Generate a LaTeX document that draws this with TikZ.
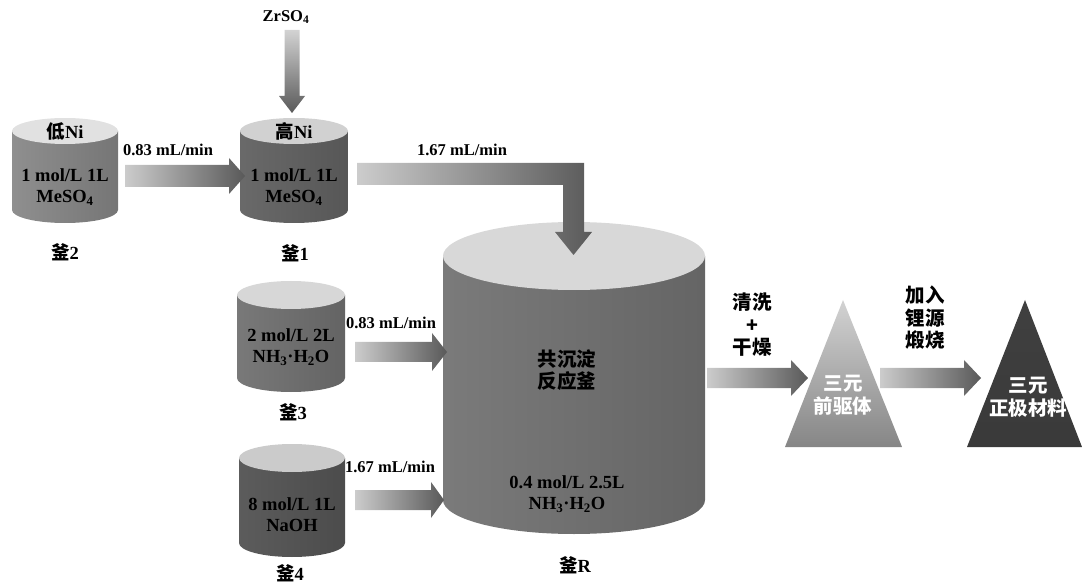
\documentclass[tikz,border=0pt]{standalone}
\usepackage{fontspec}
\setmainfont{Liberation Serif}
\newfontfamily\cjk{Noto Sans CJK SC}
\usetikzlibrary{calc}

\definecolor{lowni}{HTML}{A8A8A8}
\definecolor{highni}{HTML}{7C7C7C}
\definecolor{ammonia}{HTML}{8E8E8E}
\definecolor{caustic}{HTML}{6C6C6C}
\definecolor{reactor}{HTML}{909090}

% tank: name, x, lid y, bottom y, half width, rim, body colour
\newcommand{\tank}[7]{%
  \shade[left color=#7!85!black, middle color=#7!60!white, right color=#7!70!black]
    (#2-#5,#3) -- (#2-#5,#4) arc[start angle=180, end angle=360, x radius=#5pt, y radius=#6pt]
    -- (#2+#5,#3) -- cycle;
  \fill[#7!35!white] (#2,#3) ellipse [x radius=#5pt, y radius=#6pt];
  \coordinate (#1) at (#2,#3);}

% block arrow: from, to, shaft half, head half, head length
\newcommand{\hflow}[5]{%
  \shade[flow] ($(#1)+(0,#3)$) -- ($(#2)+(-#5,#3)$) -- ($(#2)+(-#5,#4)$) -- (#2)
    -- ($(#2)+(-#5,-#4)$) -- ($(#2)+(-#5,-#3)$) -- ($(#1)+(0,-#3)$) -- cycle;}

\tikzset{
  rate/.style={font=\fontsize{16.5}{18}\selectfont\bfseries},
  conc/.style={font=\fontsize{18.5}{21}\selectfont\bfseries, align=center},
  tag/.style={font=\fontsize{18.5}{21}\selectfont\bfseries},
  cn/.style={font=\fontsize{19.5}{22.5}\selectfont\bfseries\cjk, align=center},
  flow/.style={left color=gray!40, right color=gray!70!black},
}

\begin{document}
\begin{tikzpicture}[x=1pt, y=-1pt]
\useasboundingbox (0,0) rectangle (1082,585);

% feed tanks
\tank{t2}{65}{131}{210}{53}{13}{lowni}
\tank{t1}{294}{131}{210}{54}{13}{highni}
\tank{t3}{291}{295}{378}{54}{14}{ammonia}
\tank{t4}{292}{458}{543}{53}{14}{caustic}
% reactor
\tank{tR}{574}{256}{500}{131}{34}{reactor}

\node[tag] (lid2) at (65,131) {{\cjk 低}Ni};
\node[conc] (c2) at (65,187) {1 mol/L 1L\\MeSO\textsubscript{4}};
\node[tag] (k2) at (65,252) {{\cjk 釜}2};

\node[tag] (lid1) at (294,131) {{\cjk 高}Ni};
\node[conc] (c1) at (294,187) {1 mol/L 1L\\MeSO\textsubscript{4}};
\node[tag] (k1) at (295,253) {{\cjk 釜}1};

\node[conc] (c3) at (291,347) {2 mol/L 2L\\NH\textsubscript{3}·H\textsubscript{2}O};
\node[tag] (k3) at (293,412) {{\cjk 釜}3};

\node[conc] (c4) at (292,515) {8 mol/L 1L\\NaOH};
\node[tag] (k4) at (290,573) {{\cjk 釜}4};

\node[cn] (cR) at (567,370) {共沉淀\\反应釜};
\node[conc] (cR2) at (567,494) {0.4 mol/L 2.5L\\NH\textsubscript{3}·H\textsubscript{2}O};
\node[tag] (kR) at (575,565) {{\cjk 釜}R};

% products
\shade[top color=gray!35, bottom color=gray!95] (843,300) -- (902,447) -- (785,447) -- cycle;
\shade[top color=gray!50!black, middle color=gray!95, bottom color=gray!45!black] (1025,300) -- (1082,447) -- (967,447) -- cycle;
\node[cn, text=white] (pre) at (843,395) {三元\\前驱体};
\node[cn, text=white] (cat) at (1028,397) {三元\\正极材料};

% flows
\coordinate (f1a) at (125,176);  \coordinate (f1b) at (245,176);
\coordinate (f3a) at (355,352);  \coordinate (f3b) at (447,352);
\coordinate (f4a) at (355,500);  \coordinate (f4b) at (444,500);
\coordinate (f5a) at (707,378);  \coordinate (f5b) at (808,378);
\coordinate (f6a) at (880,378);  \coordinate (f6b) at (981,378);
\hflow{f1a}{f1b}{11}{18}{16}
\hflow{f3a}{f3b}{10}{19}{15}
\hflow{f4a}{f4b}{10}{18}{13}
\hflow{f5a}{f5b}{10}{18}{17}
\hflow{f6a}{f6b}{10}{18}{17}

\coordinate (z1) at (292,30);  \coordinate (z2) at (292,113);
\shade[top color=gray!35, bottom color=gray!70!black]
  ($(z1)+(-7.5,0)$) -- ($(z2)+(-7.5,-17)$) -- ($(z2)+(-13,-17)$) -- (z2)
  -- ($(z2)+(13,-17)$) -- ($(z2)+(7.5,-17)$) -- ($(z1)+(7.5,0)$) -- cycle;

\coordinate (e1) at (357,174);  \coordinate (ec) at (573.5,174);  \coordinate (e2) at (573.5,255);
\shade[flow]
  ($(e1)+(0,-11)$) -- ($(ec)+(10.5,-11)$) -- ($(e2)+(10.5,-23)$) -- ($(e2)+(18.5,-23)$) -- (e2)
  -- ($(e2)+(-18.5,-23)$) -- ($(e2)+(-10.5,-23)$) -- ($(ec)+(-10.5,11)$) -- ($(e1)+(0,11)$) -- cycle;

\node[rate] (r1) at (168,150) {0.83 mL/min};
\node[rate] (zr) at (286,17) {ZrSO\textsubscript{4}};
\node[rate] (r2) at (462,150) {1.67 mL/min};
\node[rate] (r3) at (391,323) {0.83 mL/min};
\node[rate] (r4) at (390,467) {1.67 mL/min};
\node[cn] (wash) at (752,325) {清洗\\+\\干燥};
\node[cn] (fire) at (925,318) {加入\\锂源\\煅烧};
\end{tikzpicture}
\end{document}
